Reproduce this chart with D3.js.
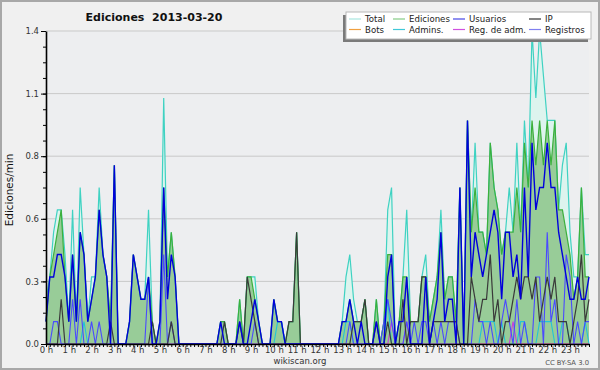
<!DOCTYPE html>
<html lang="es">
<head>
<meta charset="utf-8">
<title>Ediciones 2013-03-20</title>
<script src="https://cdn.jsdelivr.net/npm/d3@7"></script>
<style>
  body { margin: 0; background: #fff; }
  svg { display: block; font-family: "DejaVu Sans", sans-serif; }
</style>
</head>
<body>
<script>
// edits per minute, one value per 10 minutes (00:00 ... 23:50)
var total = [
  .2,.3,.5,.6,.6,.4, .1,.6,.1,.7,.4,.1, .3,.3,.7,.4,.3,.1, .8,0,0,0,.1,.4,
  .3,.2,.2,.6,.1,0, .1,1.1,.3,.5,.3,0, 0,0,0,0,0,0, 0,0,0,0,.1,.1,
  0,0,0,.2,0,.3, .3,.3,.1,0,0,0, .2,.1,.1,0,.1,.1, .5,0,0,0,0,0,
  0,0,0,0,0,0, .1,.3,.4,.2,.1,.1, .2,0,0,.2,0,.1, .6,.7,0,.1,.3,.6,
  .1,.1,.1,.3,.4,.1, .2,.3,.6,.2,.3,.3, .1,.7,0,1.0,.5,.9, .5,.5,.4,.9,.7,.6,
  .4,.5,.7,.5,.9,.5, 1.0,.7,1.4,1.1,1.4,1.2, 1.0,1.0,1.0,.6,.8,.9, .5,.3,.3,.7,.4,.4
];
var ediciones = [
  .1,.3,.4,.5,.6,.3, .1,.4,.1,.5,.4,.1, .2,.3,.6,.4,.3,.1, .8,0,0,0,.1,.4,
  .3,.2,.2,.3,.1,0, .1,.7,.3,.5,.3,0, 0,0,0,0,0,0, 0,0,0,0,.1,.1,
  0,0,0,.2,0,.3, .3,.2,.1,0,0,0, .2,.1,.1,0,.1,.1, .5,0,0,0,0,0,
  0,0,0,0,0,0, .1,.1,.2,.1,.1,.1, .2,0,0,.2,0,.1, .4,.4,0,.1,.3,.3,
  .1,.1,.1,.3,.3,.1, .2,.3,.5,.2,.3,.3, .1,.7,0,1.0,.5,.7, .5,.5,.4,.9,.7,.6,
  .4,.5,.5,.5,.7,.5, .9,.7,1.0,.8,1.0,.8, 1.0,.8,1.0,.6,.6,.5, .4,.2,.3,.7,.3,.3
];
var usuarios = [
  .1,.3,.3,.4,.4,.3, .1,.4,.1,.5,.4,.1, .2,.3,.6,.4,.3,0, .8,0,0,0,.1,.4,
  .3,.2,.2,.3,0,0, .1,.7,.2,.4,.3,0, 0,0,0,0,0,0, 0,0,0,0,.1,0,
  0,0,0,.1,0,0, .1,.2,.1,0,0,0, .2,.1,.1,0,0,0, 0,0,0,0,0,0,
  0,0,0,0,0,0, .1,.1,.2,.1,0,.1, 0,0,0,.1,0,0, .3,.4,0,.1,.1,.3,
  0,0,0,0,.3,0, .1,.2,.5,.1,.2,.2, 0,.7,0,1.0,.3,.5, .4,.3,.4,.5,.6,.5,
  .2,.5,.5,.3,.4,.2, .7,.3,.9,.6,.7,.7, .9,.7,.7,.5,.4,.3, .2,.2,.3,.2,.2,.3
];
var ip = [
  0,0,0,0,.2,0, 0,0,0,0,0,0, 0,0,0,0,0,.1, 0,0,0,0,0,0,
  0,0,0,0,.1,0, 0,0,0,.1,0,0, 0,0,0,0,0,0, 0,0,0,0,0,.1,
  0,0,0,.1,0,.3, .2,.1,0,0,0,0, 0,0,0,0,.1,.1, .5,0,0,0,0,0,
  0,0,0,0,0,0, 0,0,0,.1,.1,.1, .2,0,0,.1,0,0, .1,0,0,0,.2,0,
  .1,.1,.1,.3,.3,0, .1,.1,.1,.1,.1,.1, .1,0,0,0,.3,.2, .1,.2,.2,.4,.1,.2,
  0,.1,.1,.2,.3,.2, .3,.3,.2,.3,.1,.2, .3,.2,.3,.1,.1,.1, 0,.1,.2,.4,.1,.2
];
var registros = [
  0,0,.1,.1,0,0, 0,.2,0,.2,0,0, .1,0,.1,0,0,0, 0,0,0,0,0,0,
  0,0,0,.3,0,0, 0,.4,0,.1,0,0, 0,0,0,0,0,0, 0,0,0,0,0,0,
  0,0,0,0,0,0, 0,.1,0,0,0,0, 0,0,0,0,0,0, 0,0,0,0,0,0,
  0,0,0,0,0,0, 0,0,.1,0,0,0, 0,0,0,0,0,.1, .2,.1,0,0,0,.1,
  0,.1,0,.1,.1,0, .1,0,.1,0,.1,.1, .1,0,0,0,0,.2, .1,.1,0,.1,0,0,
  .1,.2,.1,0,.2,0, .1,0,0,.3,.3,0, .5,.1,.2,0,0,.4, .3,0,.1,0,.1,.1
];
var admins = [
  0,0,0,0,0,0, 0,0,0,0,.1,0, 0,0,0,0,0,0, 0,0,0,0,0,0,
  0,0,0,0,0,0, 0,0,0,0,0,0, 0,0,0,0,0,0, 0,0,0,0,0,0,
  0,0,0,0,0,0, 0,0,0,0,0,0, 0,.1,.1,0,0,0, 0,0,0,0,0,0,
  0,0,0,0,0,0, 0,.1,.1,0,0,0, 0,0,0,0,0,0, .2,0,0,0,0,0,
  0,0,0,0,0,0, 0,0,0,0,0,0, 0,0,0,0,0,0, 0,.1,.1,.1,.1,0,
  .1,0,0,0,0,.1, .1,0,0,0,.1,.1, .1,.1,0,0,.1,.1, 0,0,0,0,.1,0
];
var regAdm = [
  0,0,0,0,0,0, 0,0,0,0,0,0, 0,0,0,0,0,0, 0,0,0,0,0,0,
  0,0,0,0,0,0, 0,0,0,0,0,0, 0,0,0,0,0,0, 0,0,0,0,0,0,
  0,0,0,0,0,0, 0,0,0,0,0,0, 0,0,0,0,0,0, 0,0,0,0,0,0,
  0,0,0,0,0,0, 0,0,0,0,0,0, 0,0,0,0,0,0, 0,.1,0,0,0,.1,
  0,0,0,0,0,0, 0,0,0,0,0,0, 0,0,0,0,0,0, 0,0,0,0,0,0,
  0,0,0,.1,0,0, 0,0,0,0,0,0, 0,0,0,0,0,0, 0,0,0,0,0,0
];
var bots = [
  0,0,0,0,0,0, 0,0,0,0,0,0, 0,0,0,0,0,0, 0,0,0,0,0,0,
  0,0,0,0,0,0, 0,0,0,0,0,0, 0,0,0,0,0,0, 0,0,0,0,0,0,
  0,0,0,0,0,0, 0,0,0,0,0,0, 0,0,0,0,0,0, 0,0,0,0,0,0,
  0,0,0,0,0,0, 0,0,0,0,0,0, 0,0,0,0,0,0, 0,0,0,0,0,0,
  0,0,0,0,0,0, 0,0,0,0,0,0, 0,0,0,0,0,0, 0,0,0,0,0,0,
  0,0,0,0,0,0, 0,0,0,0,0,0, 0,0,0,0,0,0, 0,0,0,0,0,0
];

var hourLabels = ["0 h","1 h","2 h","3 h","4 h","5 h","6 h","7 h","8 h","9 h","10 h","11 h",
                  "12 h","13 h","14 h","15 h","16 h","17 h","18 h","19 h","20 h","21 h","22 h","23 h"];
var yTickValues = [0, 0.28, 0.56, 0.84, 1.12, 1.4];
var yTickLabels = ["0.0", "0.3", "0.6", "0.8", "1.1", "1.4"];

var legendItems = [
  { name: "Total",        color: "#a8e6e0", col: 0, row: 0 },
  { name: "Ediciones",    color: "#86cc86", col: 1, row: 0 },
  { name: "Usuarios",     color: "#4646e6", col: 2, row: 0 },
  { name: "IP",           color: "#333333", col: 3, row: 0 },
  { name: "Bots",         color: "#f0a040", col: 0, row: 1 },
  { name: "Admins.",      color: "#40c8d8", col: 1, row: 1 },
  { name: "Reg. de adm.", color: "#d050e0", col: 2, row: 1 },
  { name: "Registros",    color: "#8080f0", col: 3, row: 1 }
];

var w = 600;
var h = 370;
var margin = { top: 31, left: 46, right: 11, bottom: 26 };
var width = w - margin.left - margin.right;
var height = h - margin.top - margin.bottom;

var svg = d3.select("body").append("svg")
            .attr("width", w)
            .attr("height", h);

svg.append("rect")
   .attr("x", 1).attr("y", 1)
   .attr("width", w - 2).attr("height", h - 2)
   .attr("fill", "#f0f0f0")
   .attr("stroke", "#a8a8a8")
   .attr("stroke-width", 2);

var chart = svg.append("g")
               .attr("transform", "translate(" + margin.left + "," + margin.top + ")");

var x = d3.scaleLinear().domain([0, total.length - 1]).range([0, width]);
var y = d3.scaleLinear().domain([0, 1.4]).range([height, 0]);

chart.append("rect")
     .attr("width", width).attr("height", height)
     .attr("fill", "#edeef0");

// grid
chart.selectAll(".grid")
     .data(yTickValues.slice(1))
     .enter().append("line")
     .attr("x1", 0).attr("x2", width)
     .attr("y1", function(d) { return y(d); })
     .attr("y2", function(d) { return y(d); })
     .attr("stroke", "#c9c9c9");

var area = d3.area()
             .x(function(d, i) { return x(i); })
             .y0(height)
             .y1(function(d) { return y(d); });
var line = d3.line()
             .x(function(d, i) { return x(i); })
             .y(function(d) { return y(d); });

chart.append("path").datum(total).attr("d", area).attr("fill", "#ddf4ee");
chart.append("path").datum(ediciones).attr("d", area).attr("fill", "#98cc98");

var series = [
  { data: total,     color: "#3fd2c2", width: 1.2 },
  { data: ediciones, color: "#3cb03c", width: 1.2 },
  { data: bots,      color: "#f0a040", width: 1 },
  { data: admins,    color: "#22c4d6", width: 1.1 },
  { data: regAdm,    color: "#c840d8", width: 1.1 },
  { data: registros, color: "#4a4aff", width: 1.1 },
  { data: ip,        color: "#3a3a3a", width: 1.2 },
  { data: usuarios,  color: "#0000dc", width: 1.4 }
];
chart.selectAll(".serie")
     .data(series)
     .enter().append("path")
     .attr("d", function(s) { return line(s.data); })
     .attr("fill", "none")
     .attr("stroke", function(s) { return s.color; })
     .attr("stroke-width", function(s) { return s.width; });

// axes
var yAxis = d3.axisLeft(y)
              .tickValues(yTickValues)
              .tickFormat(function(d, i) { return yTickLabels[i]; })
              .tickSize(5).tickSizeOuter(0).tickPadding(2);
var yMinor = d3.axisLeft(y)
               .tickValues(d3.range(0, 1.4001, 0.07))
               .tickFormat("")
               .tickSize(3).tickSizeOuter(0);
var xAxis = d3.axisBottom(x)
              .tickValues(d3.range(0, total.length))
              .tickFormat(function(d) { return d % 6 === 0 ? hourLabels[d / 6] : ""; })
              .tickSize(3).tickSizeOuter(0).tickPadding(0);

var gy = chart.append("g").call(yMinor);
gy.select(".domain").remove();
var gy2 = chart.append("g").call(yAxis);
var gx = chart.append("g").attr("transform", "translate(0," + height + ")").call(xAxis);

[gy, gy2, gx].forEach(function(g) {
  g.selectAll("line").attr("stroke", "#000");
  g.selectAll(".domain").attr("stroke", "#000").attr("stroke-width", 1.6);
  g.selectAll("text").attr("font-family", "DejaVu Sans").attr("font-size", 8.5).attr("fill", "#333");
});

// title and labels
svg.append("text")
   .attr("x", 154).attr("y", 21)
   .attr("text-anchor", "middle")
   .attr("font-weight", "bold").attr("font-size", 11).attr("fill", "#111")
   .text("Ediciones\u00a0 2013-03-20");

svg.append("text")
   .attr("transform", "translate(13,190) rotate(-90)")
   .attr("text-anchor", "middle")
   .attr("font-size", 10.4).attr("fill", "#111")
   .text("Ediciones/min");

svg.append("text")
   .attr("x", 300).attr("y", 364)
   .attr("text-anchor", "middle")
   .attr("font-size", 8.5).attr("fill", "#333")
   .text("wikiscan.org");

svg.append("text")
   .attr("x", 589).attr("y", 365)
   .attr("text-anchor", "end")
   .attr("font-size", 6.8).attr("fill", "#555")
   .text("CC BY-SA 3.0");

// legend
var legend = svg.append("g").attr("transform", "translate(346,12)");
legend.append("rect")
      .attr("x", -3).attr("y", 3)
      .attr("width", 245).attr("height", 27)
      .attr("fill", "#7a7a7a");
legend.append("rect")
      .attr("width", 245).attr("height", 27)
      .attr("fill", "#fff")
      .attr("stroke", "#b8b8b8");

var colX = [3, 47, 107, 183];
var rowY = [7, 17.5];
var items = legend.selectAll(".item")
                  .data(legendItems)
                  .enter().append("g")
                  .attr("transform", function(d) { return "translate(" + colX[d.col] + "," + rowY[d.row] + ")"; });
items.append("line")
     .attr("x1", 0).attr("x2", 12)
     .attr("stroke", function(d) { return d.color; })
     .attr("stroke-width", 1.2);
items.append("text")
     .attr("x", 16).attr("y", 3.2)
     .attr("font-size", 8.6).attr("fill", "#222")
     .text(function(d) { return d.name; });
</script>
</body>
</html>
